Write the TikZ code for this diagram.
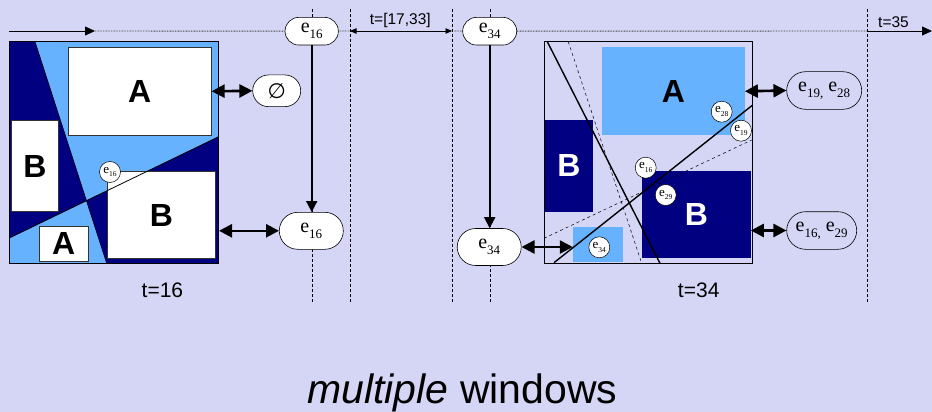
\documentclass[tikz,border=0pt]{standalone}
\usepackage{fontspec}
\setmainfont{Liberation Sans}
\newfontfamily\serif{Liberation Serif}
\newfontfamily\symbfont{DejaVu Sans}
\usepackage{xcolor}
\usetikzlibrary{arrows.meta,shapes.misc,positioning}

\definecolor{lavender}{RGB}{213,214,245}
\definecolor{skyblue}{RGB}{102,178,255}
\definecolor{navy}{RGB}{0,0,128}

% e with a lowered index: size, index, drop
\newcommand\esub[3]{e\raisebox{-#3}{\fontsize{#1}{#1}\selectfont #2}}

\tikzset{
  pill/.style={rounded rectangle, draw, fill=white, line width=0.6pt, inner sep=0pt,
    font=\serif\fontsize{20}{22}\selectfont},
  edot/.style={circle, draw, fill=white, line width=0.5pt, minimum size=21pt, inner sep=0pt,
    font=\serif\fontsize{13}{13}\selectfont},
  winbox/.style={draw, line width=0.6pt, inner sep=0pt},
  region/.style={inner sep=0pt, font=\bfseries\fontsize{32}{32}\selectfont},
  vdash/.style={line width=0.7pt, dash pattern=on 3pt off 2pt},
  dotline/.style={line width=0.9pt, dash pattern=on 0.8pt off 0.8pt, black!75},
  bigarrow/.style={{Triangle[length=13pt,width=13pt]}-{Triangle[length=13pt,width=13pt]}, line width=2.6pt},
  downarrow/.style={-{Triangle[length=11pt,width=11pt]}, line width=1.8pt},
  tlabel/.style={anchor=base, font=\fontsize{21}{21}\selectfont},
}

\begin{document}
\begin{tikzpicture}[x=1pt,y=-1pt]
  \useasboundingbox (0,0) rectangle (932,412);
  \fill[lavender] (0,0) rectangle (932,412);

  % time marks
  \foreach \x in {312,350,452,490,867}
    \draw[vdash] (\x,9) -- (\x,303);

  % left window, t=16
  \fill[skyblue] (9.3,41.7) rectangle (218.7,263.3);
  \coordinate (l1a) at (35,41.7);
  \coordinate (l1b) at (106.7,263.3);
  \coordinate (l2a) at (9.3,238);
  \coordinate (l2b) at (218.7,136.7);
  \coordinate (lx) at (intersection of l1a--l1b and l2a--l2b);
  \fill[navy] (9.3,41.7) -- (l1a) -- (lx) -- (l2a) -- cycle;
  \fill[navy] (lx) -- (l2b) -- (218.7,263.3) -- (l1b) -- cycle;
  \node[region, draw=black!80, line width=0.6pt, fill=white, minimum width=143pt, minimum height=88pt] (lA1) at (139.8,91.3) {A};
  \node[region, draw=black!80, line width=0.6pt, fill=white, minimum width=46.6pt, minimum height=91pt] (lB1) at (35,166.2) {B};
  \node[region, draw=black!80, line width=0.6pt, fill=white, minimum width=49.3pt, minimum height=34.3pt] (lA2) at (63.7,243.9) {A};
  \node[region, draw=black!80, line width=0.6pt, fill=white, minimum width=108.4pt, minimum height=86.6pt] (lB2) at (161.5,215) {B};
  \draw[line width=0.6pt] (l1a) -- (l1b);
  \draw[line width=0.8pt] (l2a) -- (l2b);
  \node[winbox, minimum width=209.4pt, minimum height=221.6pt] (winL) at (114,152.5) {};
  \node[edot] (c16l) at (110,172) {\esub{7.5}{16}{3.5pt}};

  % right window, t=34
  \node[region, fill=skyblue, minimum width=142.7pt, minimum height=88pt] (rA1) at (673.3,91.3) {A};
  \node[region, fill=navy, text=white, minimum width=47.7pt, minimum height=91.7pt] (rB1) at (568.8,165.8) {B};
  \node[region, fill=navy, text=white, minimum width=108.7pt, minimum height=86.7pt] (rB2) at (696.3,214.3) {B};
  \node[region, fill=skyblue, minimum width=49.7pt, minimum height=34.7pt] (rA2) at (597.8,244.3) {};
  \draw[line width=0.5pt, dashed] (568.3,41.7) -- (641.7,263.3);
  \draw[line width=0.5pt, dashed] (544,238.3) -- (751.7,140);
  \draw[line width=1.4pt] (547.3,41.7) -- (660,263.3);
  \draw[line width=1.4pt] (554,262.7) -- (752.7,105);
  \node[winbox, minimum width=208.7pt, minimum height=221.6pt] (winR) at (648.3,152.5) {};
  \node[edot] (c28) at (721.7,111.7) {\esub{7.5}{28}{3.5pt}};
  \node[edot] (c19) at (741,130.7) {\esub{7.5}{19}{3.5pt}};
  \node[edot] (c16r) at (645.7,167.7) {\esub{7.5}{16}{3.5pt}};
  \node[edot] (c29) at (665.7,195) {\esub{7.5}{29}{3.5pt}};
  \node[edot] (c34) at (599.3,247.3) {\esub{7.5}{34}{3.5pt}};

  % events on the time line
  \node[pill, minimum width=53.3pt, minimum height=27.7pt] (e16a) at (311.7,31.2) {\esub{13}{16}{6pt}};
  \node[pill, minimum width=54pt, minimum height=27.7pt] (e34a) at (489.7,31.2) {\esub{13}{34}{6pt}};
  \node[pill, minimum width=64pt, minimum height=37pt] (e16b) at (311.3,230.8) {\esub{13}{16}{6pt}};
  \node[pill, minimum width=64pt, minimum height=37pt] (e34b) at (489.2,247) {\esub{13}{34}{6pt}};
  \node[pill, minimum width=48pt, minimum height=31.7pt, font=\symbfont\fontsize{21}{21}\selectfont] (none) at (276.7,90.8) {∅};
  \node[pill, fill=none, minimum width=75pt, minimum height=37.6pt] (s1928) at (824.2,90.5) {\esub{13}{19,}{6pt} \esub{13}{28}{6pt}};
  \node[pill, fill=none, minimum width=70pt, minimum height=37.6pt] (s1629) at (821.7,230.5) {\esub{13}{16,}{6pt} \esub{13}{29}{6pt}};

  % time line
  \coordinate (t0) at (9,31);
  \coordinate (tA) at (95,31);
  \coordinate (d1) at (350,31);
  \coordinate (d2) at (452,31);
  \coordinate (d3) at (867,31);
  \coordinate (tEnd) at (932,31);
  \draw[-{Triangle[length=10pt,width=9pt]}, line width=0.8pt] (t0) -- (tA);
  \draw[dotline] (tA) -- (e16a);
  \draw[dotline] (e16a) -- (d1);
  \draw[{Triangle[length=6.5pt,width=5.5pt]}-{Triangle[length=6.5pt,width=5.5pt]}, line width=0.8pt] (d1) -- (d2);
  \draw[dotline] (d2) -- (e34a);
  \draw[dotline] (e34a) -- (d3);
  \draw[-{Triangle[length=10pt,width=9pt]}, line width=0.8pt] (d3) -- (tEnd);
  \node[tlabel, font=\fontsize{15.5}{15.5}\selectfont] (tgap) at (400.3,25) {t=[17,33]};
  \node[tlabel, font=\fontsize{15.5}{15.5}\selectfont] (t35) at (893.5,27.3) {t=35};

  % events carried into the next window
  \draw[downarrow] (e16a.south) -- (e16a.south |- e16b.north);
  \draw[downarrow] (e34a.south) -- (e34a.south |- e34b.north);
  \draw[bigarrow] (lA1.east) -- (none.west);
  \draw[bigarrow] (winL.east |- e16b) -- (e16b.west);
  \draw[bigarrow] (e34b.east) -- (rA2.west |- e34b);
  \draw[bigarrow] (rA1.east) -- (s1928.west);
  \draw[bigarrow] (rB2.east |- s1629) -- (s1629.west);

  \node[tlabel] (t16) at (162.4,297.3) {t=16};
  \node[tlabel] (t34) at (698.7,297) {t=34};
  \node[anchor=base, font=\fontsize{41}{41}\selectfont] (title) at (462.3,403.3) {\textit{multiple} windows};
\end{tikzpicture}
\end{document}
